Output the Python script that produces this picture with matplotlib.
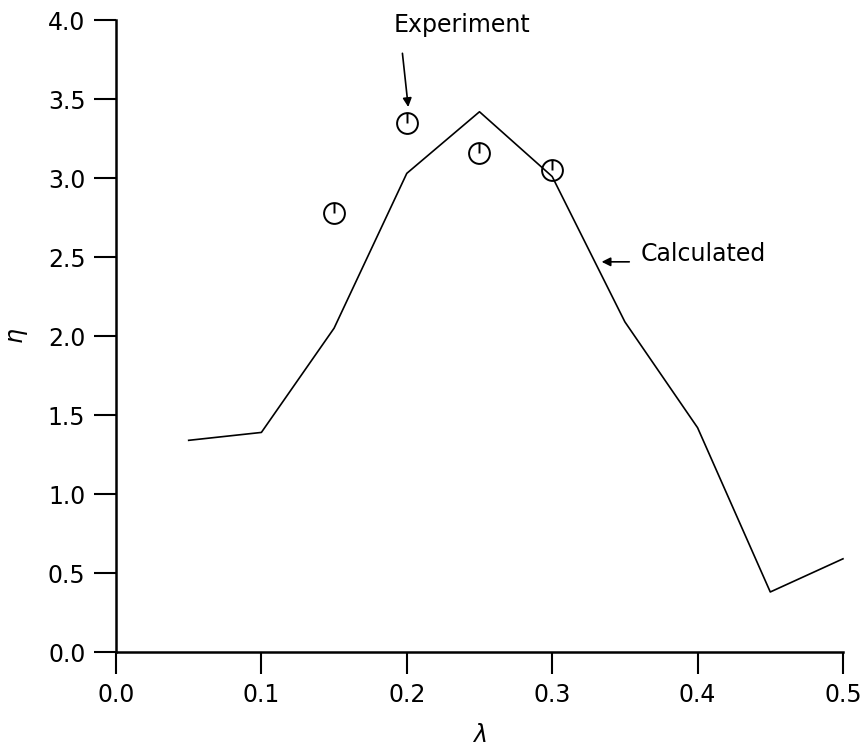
import matplotlib
matplotlib.use("Agg")
import matplotlib.pyplot as plt
from matplotlib.path import Path

# calculated curve
lam_calc = [0.05, 0.10, 0.15, 0.20, 0.25, 0.30, 0.35, 0.40, 0.45, 0.50]
eta_calc = [1.34, 1.39, 2.05, 3.03, 3.42, 3.01, 2.09, 1.42, 0.38, 0.59]

# experimental points
lam_exp = [0.15, 0.20, 0.25, 0.30]
eta_exp = [2.78, 3.35, 3.16, 3.05]

xticks = [0.0, 0.1, 0.2, 0.3, 0.4, 0.5]
yticks = [0.0, 0.5, 1.0, 1.5, 2.0, 2.5, 3.0, 3.5, 4.0]

plt.rcParams["font.family"] = ["DejaVu Sans"]

fig = plt.figure(figsize=(8.63, 7.46), dpi=100)
ax = fig.add_axes([0.1344, 0.126, 0.8424, 0.847])

ax.plot(lam_calc, eta_calc, color="black", lw=1.2, clip_on=False)

# open circle with a stroke from centre to top
circ = Path.unit_circle()
stick = Path([[0, 0], [0, 1]], [Path.MOVETO, Path.LINETO])
marker = Path.make_compound_path(circ, stick)
ax.plot(lam_exp, eta_exp, ls="none", marker=marker, ms=15, mfc="none",
        mec="black", mew=1.4, clip_on=False)

arrow = dict(arrowstyle="-|>", color="black", lw=1.2,
             shrinkA=0, shrinkB=0, mutation_scale=13)

ax.text(0.238, 3.97, "Experiment", ha="center", va="center", fontsize=17)
ax.annotate("", xy=(0.201, 3.45), xytext=(0.197, 3.79), arrowprops=arrow)

ax.text(0.361, 2.52, "Calculated", ha="left", va="center", fontsize=17)
ax.annotate("", xy=(0.334, 2.47), xytext=(0.353, 2.47), arrowprops=arrow)

ax.set_xlim(0, 0.5)
ax.set_ylim(0, 4.0)
ax.set_xticks(xticks)
ax.set_yticks(yticks)
ax.set_xticklabels([f"{v:.1f}" for v in xticks])
ax.set_yticklabels([f"{v:.1f}" for v in yticks])
ax.tick_params(direction="out", length=16, width=1.5, labelsize=17, pad=6)

for s in ["top", "right"]:
    ax.spines[s].set_visible(False)
for s in ["left", "bottom"]:
    ax.spines[s].set_linewidth(1.8)

ax.set_xlabel(r"$\lambda$", fontsize=17, labelpad=12)
ax.set_ylabel(r"$\eta$", fontsize=17)
ax.yaxis.set_label_coords(-0.118, 0.5)

fig.savefig("out.png", dpi=100)
